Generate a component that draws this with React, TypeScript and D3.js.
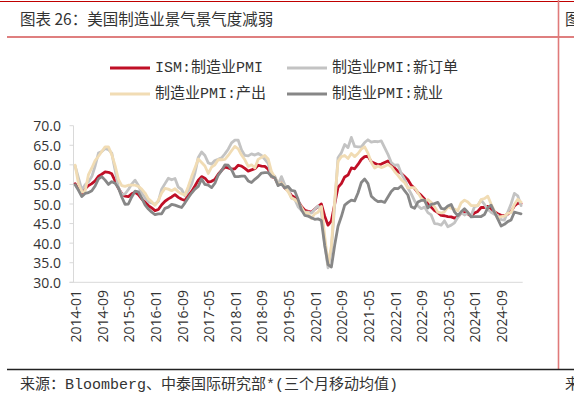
import React from 'react';
import * as d3 from 'd3';

// Categories: monthly, 2014-01 .. 2025-03
const months: string[] = d3
  .timeMonth.range(new Date(2014, 0, 1), new Date(2025, 3, 1))
  .map(d3.timeFormat('%Y-%m'));

const tickLabels = [
  '2014-01', '2014-09', '2015-05', '2016-01', '2016-09', '2017-05', '2018-01', '2018-09',
  '2019-05', '2020-01', '2020-09', '2021-05', '2022-01', '2022-09', '2023-05', '2024-01', '2024-09',
];

const yTicks = [30, 35, 40, 45, 50, 55, 60, 65, 70];

// ISM: 制造业PMI (3-month moving average)
const ismPmi = [
  55.2, 53.8, 52.7, 53.9, 54.7, 55.2, 55.9, 57.1, 57.6, 58.2, 58.1, 57.7,
  55.9, 54.0, 52.6, 52.0, 51.9, 52.6, 53.0, 52.4, 51.3, 50.5, 49.6, 49.0,
  48.3, 48.6, 49.8, 50.7, 51.3, 51.8, 52.4, 51.7, 51.2, 50.9, 52.2, 53.2,
  54.6, 56.1, 57.0, 56.6, 55.6, 55.8, 56.3, 57.6, 58.6, 59.4, 59.2, 58.9,
  59.0, 59.9, 59.7, 59.1, 58.4, 58.7, 59.0, 59.9, 59.7, 59.6, 58.9, 57.0,
  56.7, 55.0, 55.4, 54.1, 53.4, 52.2, 51.7, 50.7, 49.4, 48.4, 48.1, 47.9,
  48.7, 49.4, 50.0, 46.9, 44.6, 45.7, 50.0, 54.3, 55.2, 56.9, 57.4, 59.2,
  59.0, 60.1, 61.4, 62.1, 62.2, 60.8, 60.4, 60.0, 60.2, 60.6, 61.0, 60.2,
  59.2, 58.3, 57.8, 57.0, 56.2, 54.8, 54.0, 52.9, 52.2, 51.3, 50.0, 49.2,
  48.3, 47.8, 47.1, 47.0, 46.8, 46.7, 46.4, 46.7, 47.7, 47.8, 47.5, 46.9,
  47.7, 48.1, 49.1, 49.1, 49.4, 48.8, 48.0, 47.5, 47.1, 47.0, 47.4, 48.1,
  49.5, 50.2, 50.1,
];

// 制造业PMI: 新订单
const newOrders = [
  59.7, 56.6, 53.6, 54.9, 55.7, 57.0, 59.7, 63.0, 63.4, 64.2, 63.9, 63.0,
  58.7, 54.2, 52.4, 52.6, 53.7, 55.1, 56.1, 54.7, 52.8, 51.6, 50.6, 50.3,
  49.9, 50.7, 53.8, 55.2, 56.6, 56.2, 56.5, 54.3, 53.7, 52.1, 53.4, 55.1,
  57.9, 61.9, 63.3, 62.4, 60.5, 60.2, 61.1, 61.4, 61.8, 62.8, 64.0, 65.6,
  66.3, 66.3, 63.8, 62.4, 62.3, 62.8, 62.5, 62.9, 62.4, 61.4, 60.4, 56.9,
  57.1, 54.9, 57.0, 54.9, 53.9, 51.5, 51.2, 49.3, 48.4, 47.9, 47.9, 47.7,
  48.7, 49.5, 48.0, 39.7, 33.7, 38.4, 49.9, 61.8, 63.1, 65.2, 64.4, 67.0,
  64.7, 64.6, 64.6, 65.7, 66.4, 65.8, 66.0, 65.9, 66.1, 64.4, 62.7, 60.6,
  59.9, 60.0, 57.8, 56.3, 54.1, 52.6, 50.8, 49.5, 48.8, 49.2, 47.8, 47.2,
  45.0, 44.9, 44.6, 45.7, 44.2, 44.6, 45.2, 46.6, 47.8, 47.2, 47.7, 47.0,
  49.3, 49.6, 51.0, 49.9, 48.6, 47.9, 47.4, 47.1, 46.0, 45.9, 47.9, 50.0,
  52.7, 52.1, 49.6,
];

// 制造业PMI: 产出
const production = [
  59.9, 55.1, 53.0, 53.3, 57.5, 59.2, 61.1, 62.2, 63.4, 64.6, 64.6, 62.6,
  59.8, 56.3, 54.7, 54.5, 54.8, 54.8, 54.8, 54.5, 53.8, 52.8, 51.3, 50.6,
  49.7, 50.9, 52.8, 54.0, 53.8, 53.4, 53.9, 53.1, 52.6, 52.3, 54.5, 57.0,
  59.2, 61.5, 60.6, 59.7, 57.8, 59.4, 60.0, 61.3, 61.3, 61.4, 62.4, 63.6,
  64.7, 64.1, 62.5, 61.3, 59.6, 60.0, 59.2, 61.4, 61.9, 62.4, 61.5, 58.3,
  56.8, 54.9, 55.4, 54.3, 53.1, 51.6, 51.1, 50.5, 49.2, 47.8, 47.7, 46.3,
  47.5, 47.9, 49.4, 41.8, 34.5, 39.3, 50.9, 60.9, 62.1, 62.4, 61.6, 62.9,
  62.1, 62.9, 64.0, 64.6, 63.0, 60.6, 59.2, 59.7, 59.3, 59.6, 60.1, 59.5,
  58.3, 57.3, 56.2, 55.5, 54.1, 54.2, 54.2, 52.9, 51.5, 50.7, 51.1, 50.4,
  49.3, 47.9, 47.7, 48.0, 49.3, 48.9, 48.7, 48.3, 50.3, 51.0, 50.5, 49.6,
  49.6, 49.6, 51.1, 51.4, 52.0, 50.0, 48.2, 46.4, 46.8, 46.9, 47.6, 47.8,
  49.9, 51.2, 50.5,
];

// 制造业PMI: 就业
const employment = [
  54.9, 53.5, 51.9, 52.7, 52.9, 53.4, 54.6, 56.4, 57.0, 56.1, 55.0, 55.7,
  55.3, 54.1, 51.8, 49.9, 50.0, 51.8, 53.3, 53.1, 51.5, 49.8, 48.7, 47.9,
  47.3, 47.5, 47.5, 48.9, 49.2, 49.9, 49.7, 49.4, 49.1, 50.3, 51.6, 52.8,
  53.8, 54.5, 56.4, 55.0, 54.8, 54.2, 55.3, 57.4, 58.5, 60.0, 59.9, 58.8,
  57.0, 57.0, 57.1, 57.1, 55.9, 55.5, 56.3, 57.0, 57.9, 58.0, 58.0, 57.1,
  56.7, 54.7, 55.1, 54.1, 54.5, 53.5, 53.3, 51.2, 48.5, 47.1, 46.9, 46.5,
  46.1, 46.2, 45.8, 39.4, 34.5, 33.9, 39.5, 44.3, 46.8, 49.7, 50.4, 51.0,
  50.8, 52.8, 55.5, 56.4, 55.2, 52.0, 51.2, 50.6, 50.7, 50.4, 51.8, 53.2,
  54.0, 53.9, 54.6, 53.4, 52.3, 49.3, 48.9, 50.5, 50.9, 51.0, 49.0, 49.9,
  50.1, 50.4, 48.9, 48.7, 49.5, 49.9, 48.0, 47.0, 48.0, 48.8, 47.9, 46.7,
  46.8, 46.8, 46.8, 47.3, 49.0, 49.7, 47.9, 46.2, 44.4, 44.8, 45.5, 45.9,
  47.9, 47.7, 47.5,
];

const seriesNames = ['ISM:制造业PMI', '制造业PMI:新订单', '制造业PMI:产出', '制造业PMI:就业'];
const seriesData = [ismPmi, newOrders, production, employment];
const seriesColors = ['#c00f26', '#c3c3c3', '#f1dcb4', '#878787'];

const W = 574;
const H = 404;
const FONT_AXIS = '"Open Sans", "Liberation Sans", sans-serif';
const FONT_SONG = '"Liberation Mono", "Noto Sans CJK SC", monospace';
const FONT_TITLE = '"Noto Sans CJK SC", sans-serif';

export default function App() {
  const x = d3.scalePoint<string>().domain(months).range([73.5, 522.7]).padding(0.5);
  const y = d3.scaleLinear().domain([30, 70]).range([282.3, 125.7]);
  const line = d3
    .line<number>()
    .x((_, i) => x(months[i]) as number)
    .y((d) => y(d))
    .curve(d3.curveLinear);

  const legendPos = [
    { lx: 110, ly: 68 },
    { lx: 287, ly: 68 },
    { lx: 110, ly: 94 },
    { lx: 287, ly: 94 },
  ];

  return (
    <svg
      width={W}
      height={H}
      viewBox={`0 0 ${W} ${H}`}
      style={{ position: 'absolute', left: 0, top: 0, background: '#fff' }}
    >
      <rect x={0} y={0} width={W} height={H} fill="#fff" />
      {/* frame */}
      <line x1={0} x2={W} y1={1.5} y2={1.5} stroke="#c00000" strokeWidth={1.2} />
      <line x1={7} x2={W} y1={37} y2={37} stroke="#c00000" strokeWidth={1.2} />
      <line x1={558.5} x2={558.5} y1={0} y2={369} stroke="#e07a7a" strokeWidth={1.6} />
      <line x1={7} x2={W} y1={369.5} y2={369.5} stroke="#222" strokeWidth={1.4} />
      <text x={20} y={18} fontFamily={FONT_TITLE} fontSize={15.5} fill="#333" dominantBaseline="central">
        图表 26：美国制造业景气景气度减弱
      </text>
      <text x={565} y={18} fontFamily={FONT_TITLE} fontSize={15.5} fill="#333" dominantBaseline="central">
        图
      </text>
      <text x={20} y={385} fontFamily={FONT_SONG} fontSize={15} fill="#333" dominantBaseline="central">
        来源：Bloomberg、中泰国际研究部*(三个月移动均值)
      </text>
      <text x={565} y={385} fontFamily={FONT_SONG} fontSize={15} fill="#333" dominantBaseline="central">
        来
      </text>

      {/* legend */}
      {seriesNames.map((name, i) => (
        <g key={name}>
          <line
            x1={legendPos[i].lx}
            x2={legendPos[i].lx + 40}
            y1={legendPos[i].ly}
            y2={legendPos[i].ly}
            stroke={seriesColors[i]}
            strokeWidth={3}
          />
          <text
            x={legendPos[i].lx + 45}
            y={legendPos[i].ly}
            fontFamily={FONT_SONG}
            fontSize={15}
            fill="#333"
            dominantBaseline="central"
          >
            {name}
          </text>
        </g>
      ))}

      {/* axes */}
      <line x1={73.5} x2={73.5} y1={125.7} y2={282.3} stroke="#d9d9d9" strokeWidth={1} />
      <line x1={69.5} x2={522.7} y1={282.3} y2={282.3} stroke="#d9d9d9" strokeWidth={1} />
      {yTicks.map((t) => (
        <g key={t}>
          <line x1={69.5} x2={73.5} y1={y(t)} y2={y(t)} stroke="#d9d9d9" strokeWidth={1} />
          <text
            x={61}
            y={y(t)}
            textAnchor="end"
            dominantBaseline="central"
            fontFamily={FONT_AXIS}
            fontSize={14}
            fill="#333"
          >
            {t.toFixed(1)}
          </text>
        </g>
      ))}
      {tickLabels.map((lab) => {
        const px = (x(lab) as number) + 1;
        return (
          <text
            key={lab}
            transform={`translate(${px},290) rotate(-90)`}
            textAnchor="end"
            dy="0.35em"
            fontFamily={FONT_AXIS}
            fontSize={14}
            fill="#333"
          >
            {lab}
          </text>
        );
      })}

      {/* series */}
      {seriesData.map((data, i) => (
        <path
          key={seriesNames[i]}
          d={line(data) || ''}
          fill="none"
          stroke={seriesColors[i]}
          strokeWidth={2.8}
          strokeLinejoin="round"
          strokeLinecap="round"
        />
      ))}
    </svg>
  );
}
